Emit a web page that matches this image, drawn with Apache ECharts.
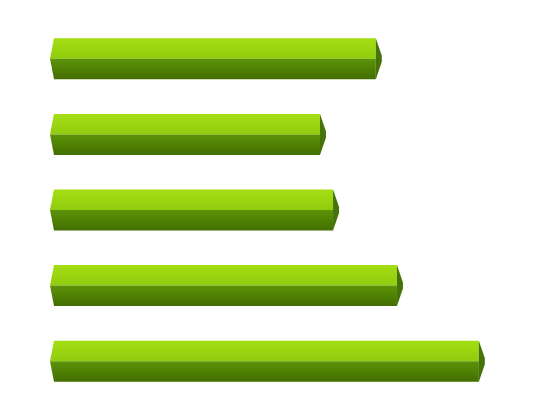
<!DOCTYPE html>
<html>
<head>
<meta charset="utf-8">
<script src="https://cdn.jsdelivr.net/npm/echarts@6/dist/echarts.min.js"></script>
<style>
  html, body { margin: 0; padding: 0; background: #fff; }
  #chart { width: 550px; height: 420px; }
</style>
</head>
<body>
<div id="chart"></div>
<script>
const categories = ["Item 1", "Item 2", "Item 3", "Item 4", "Item 5"];
const values = [72.4, 60, 62.9, 77.1, 95.3];

const chart = echarts.init(document.getElementById("chart"));

const topColor = new echarts.graphic.LinearGradient(0, 0, 0, 1, [
  { offset: 0, color: "#a4de12" },
  { offset: 1, color: "#90cc0e" },
]);
const bottomColor = new echarts.graphic.LinearGradient(0, 0, 0, 1, [
  { offset: 0, color: "#5c9308" },
  { offset: 1, color: "#436e00" },
]);
const sideColor = "#46720a";

function renderPrism(params, api) {
  const start = api.coord([0, api.value(1)]);
  const end = api.coord([api.value(0), api.value(1)]);
  const half = 20.5;
  const left = 4; // slant of the left edge
  const tip = 6; // depth of the end cap
  const x0 = start[0];
  const x1 = end[0];
  const yMid = end[1];
  const yTop = yMid - half;
  const yBot = yMid + half;

  return {
    type: "group",
    children: [
      {
        type: "polygon",
        shape: { points: [[x0 + left, yTop], [x1, yTop], [x1, yMid], [x0, yMid]] },
        style: { fill: topColor },
      },
      {
        type: "polygon",
        shape: { points: [[x0, yMid], [x1, yMid], [x1, yBot], [x0 + left, yBot]] },
        style: { fill: bottomColor },
      },
      {
        type: "polygon",
        shape: { points: [[x1, yTop], [x1 + tip, yMid - 3], [x1 + tip, yMid + 3], [x1, yBot]] },
        style: { fill: sideColor },
      },
    ],
  };
}

chart.setOption({
  animation: false,
  grid: { left: 50, right: 50, top: 21, bottom: 21 },
  xAxis: {
    type: "value",
    min: 0,
    max: 100,
    show: false,
  },
  yAxis: {
    type: "category",
    inverse: true,
    data: categories,
    show: false,
  },
  series: [
    {
      type: "custom",
      renderItem: renderPrism,
      encode: { x: 0, y: 1 },
      data: values.map((v, i) => [v, i]),
    },
  ],
});
</script>
</body>
</html>
